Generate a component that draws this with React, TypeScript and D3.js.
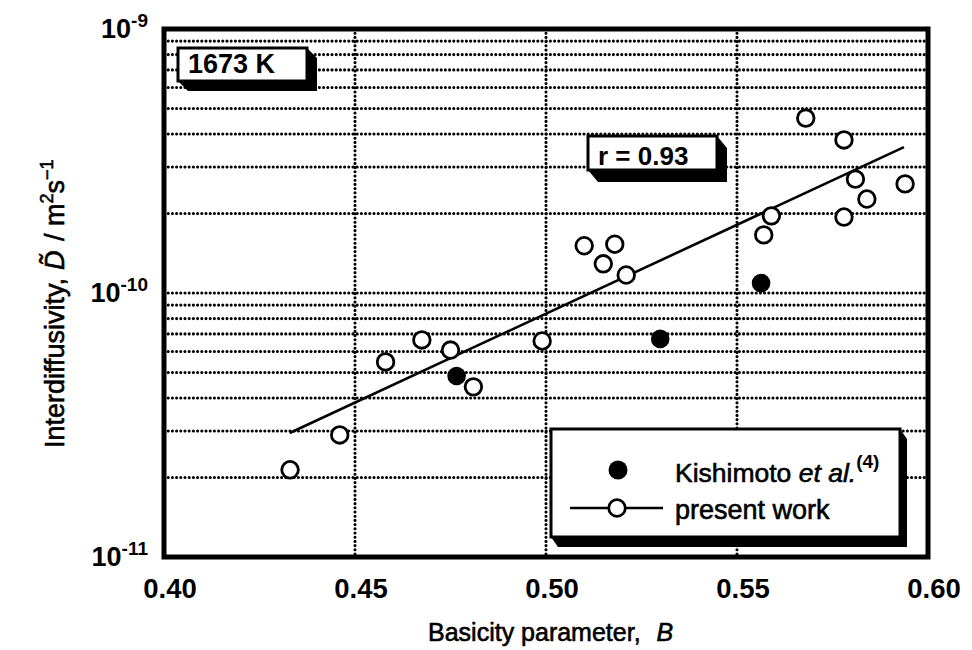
import React from "react";
import * as d3 from "d3";

// ---- data ----
const presentB = [0.433, 0.446, 0.458, 0.4675, 0.475, 0.481, 0.499, 0.510, 0.515, 0.518, 0.521, 0.557, 0.559, 0.568, 0.578, 0.578, 0.581, 0.584, 0.594];
const presentD = [2.14e-11, 2.9e-11, 5.48e-11, 6.64e-11, 6.08e-11, 4.41e-11, 6.58e-11, 1.51e-10, 1.29e-10, 1.53e-10, 1.17e-10, 1.66e-10, 1.96e-10, 4.6e-10, 3.8e-10, 1.94e-10, 2.7e-10, 2.27e-10, 2.59e-10];
const kishimotoB = [0.4766, 0.5299, 0.5563];
const kishimotoD = [4.85e-11, 6.7e-11, 1.09e-10];
const fitB = [0.4329, 0.5937];
const fitD = [2.95e-11, 3.57e-10];

const xTickValues = [0.4, 0.45, 0.5, 0.55, 0.6];
const xTickLabels = ["0.40", "0.45", "0.50", "0.55", "0.60"];
const yTickValues = [1e-11, 1e-10, 1e-9];
const yTickExponents = ["-11", "-10", "-9"];
const xGridValues = [0.45, 0.5, 0.55];

const FONT = "'Liberation Sans', Arial, Helvetica, sans-serif";

function ShadowBox({ x, y, w, h, dx, dy }: { x: number; y: number; w: number; h: number; dx: number; dy: number }) {
  const pts = [
    [x + w, y],
    [x + w + dx, y + dy],
    [x + w + dx, y + h + dy],
    [x + dx, y + h + dy],
    [x, y + h],
    [x + w, y + h],
  ]
    .map((p) => p.join(","))
    .join(" ");
  return (
    <g>
      <polygon points={pts} fill="#000" />
      <rect x={x} y={y} width={w} height={h} fill="#fff" stroke="#000" strokeWidth={3} />
    </g>
  );
}

export default function App() {
  const x = d3.scaleLinear().domain([0.4, 0.6]).range([164, 928]);
  const y = d3.scaleLog().domain([1e-11, 1e-9]).range([557, 29]);
  const [x0, x1] = x.range();
  const [yb, yt] = y.range();

  const yGrid = y.ticks().filter((v) => v > 1.0001e-11 && v < 0.9999e-9);
  const line = d3
    .line<number>()
    .x((_, i) => x(fitB[i]))
    .y((d) => y(d));

  const dotted = {
    stroke: "#000",
    strokeWidth: 3.1,
    strokeDasharray: "0 4.2",
    strokeLinecap: "round" as const,
  };
  const heavy = { stroke: "#000", strokeWidth: 0.6 };

  return (
    <svg
      width={972}
      height={650}
      style={{ position: "absolute", left: 0, top: 0, background: "#fff" }}
      fontFamily={FONT}
    >
      <rect x={0} y={0} width={972} height={650} fill="#fff" />
      {/* gridlines */}
      {yGrid.map((v, i) => (
        <line key={"gy" + i} x1={x0} x2={x1} y1={y(v)} y2={y(v)} {...dotted} />
      ))}
      {xGridValues.map((v, i) => (
        <line key={"gx" + i} x1={x(v)} x2={x(v)} y1={yt} y2={yb} {...dotted} />
      ))}

      {/* boxes */}
      <ShadowBox x={178} y={48} w={129} h={33} dx={10} dy={10} />
      <text x={188} y={73} fontSize={27} fontWeight="bold">1673 K</text>

      <ShadowBox x={588} y={136} w={129} h={34} dx={10} dy={12} />
      <text x={598} y={165} fontSize={26} fontWeight="bold">r = 0.93</text>

      {/* fit line */}
      <path d={line(fitD) || ""} fill="none" stroke="#000" strokeWidth={2.6} />

      {/* legend */}
      <ShadowBox x={551} y={429} w={349} h={108} dx={7} dy={10} />
      <circle cx={618} cy={470} r={9.5} fill="#000" />
      <text x={675} y={482} fontSize={26.5} {...heavy}>
        Kishimoto <tspan fontStyle="italic">et al.</tspan>
        <tspan fontSize={19} fontWeight="bold" dy={-14} strokeWidth={0}>(4)</tspan>
      </text>
      <line x1={570} x2={663} y1={508} y2={508} stroke="#000" strokeWidth={2.6} />
      <circle cx={617} cy={508} r={8.3} fill="#fff" stroke="#000" strokeWidth={2.8} />
      <text x={675} y={519} fontSize={27} {...heavy}>present work</text>

      {/* frame */}
      <rect x={x0} y={yt} width={x1 - x0} height={yb - yt} fill="none" stroke="#000" strokeWidth={5} />

      {/* points */}
      {presentB.map((b, i) => (
        <circle key={"p" + i} cx={x(b)} cy={y(presentD[i])} r={8.3} fill="#fff" stroke="#000" strokeWidth={2.8} />
      ))}
      {kishimotoB.map((b, i) => (
        <circle key={"k" + i} cx={x(b)} cy={y(kishimotoD[i])} r={9.3} fill="#000" />
      ))}

      {/* x tick labels */}
      {xTickValues.map((v, i) => (
        <text key={"xt" + i} x={x(v) + 6} y={598} fontSize={27.5} fontWeight="bold" textAnchor="middle">
          {xTickLabels[i]}
        </text>
      ))}
      {/* y tick labels */}
      {yTickValues.map((v, i) => (
        <text key={"yt" + i} x={148} y={y(v) + 9} fontSize={27} fontWeight="bold" textAnchor="end">
          10<tspan fontSize={19} dy={-11}>{yTickExponents[i]}</tspan>
        </text>
      ))}

      {/* axis titles */}
      <text x={428} y={641} fontSize={25} {...heavy}>
        Basicity parameter,
        <tspan dx={16} fontStyle="italic">B</tspan>
      </text>
      <text transform="translate(64,448) rotate(-90)" fontSize={27} {...heavy}>
        Interdiffusivity,
        <tspan dx={8} fontStyle="italic">D&#x303;</tspan>
        <tspan dx={2}> / m</tspan>
        <tspan fontSize={18} dy={-11}>2</tspan>
        <tspan dy={11}>s</tspan>
        <tspan fontSize={18} dy={-11}>&#x2212;1</tspan>
      </text>
    </svg>
  );
}
